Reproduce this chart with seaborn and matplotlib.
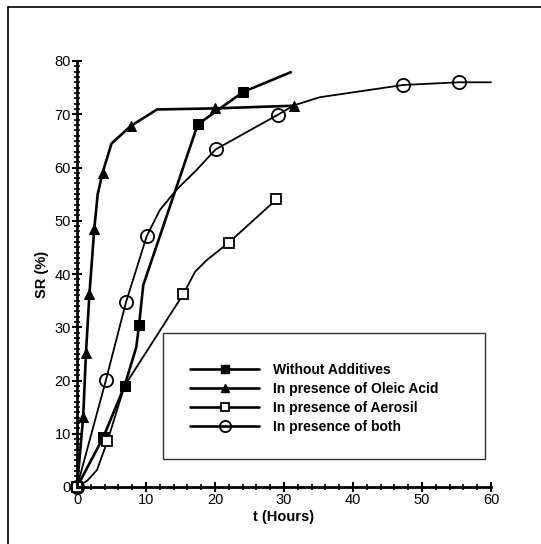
import matplotlib
matplotlib.use("Agg")
import matplotlib.pyplot as plt
import seaborn as sns
import pandas as pd
import numpy as np
from matplotlib.lines import Line2D
from matplotlib.patches import Rectangle
from matplotlib.ticker import MultipleLocator

# ---------------- data ----------------
without_t = [0, 3.8, 6.9, 8.6, 9.0, 9.6, 17.5, 24.1, 31.0]
without_sr = [0, 9.3, 19.0, 26.3, 30.5, 37.9, 68.1, 74.2, 77.9]
without_marked = [0, 1, 2, 4, 6, 7]

oleic_t = [0, 0.9, 1.3, 1.8, 2.5, 3.0, 3.7, 5.0, 7.8, 11.6, 20.0, 31.4]
oleic_sr = [0, 13.2, 25.2, 36.2, 48.4, 55.0, 59.0, 64.5, 67.8, 70.9, 71.1, 71.6]
oleic_marked = [0, 1, 2, 3, 4, 6, 8, 10, 11]

aerosil_t = [0, 1.5, 2.9, 4.4, 6.9, 15.4, 17.1, 18.8, 22.0, 28.9]
aerosil_sr = [0, 1.2, 3.2, 8.6, 19.0, 36.2, 40.4, 42.6, 45.9, 54.0]
aerosil_marked = [0, 3, 5, 8, 9]

both_t = [0, 4.2, 7.1, 10.1, 12.0, 14.4, 17.3, 20.1, 29.1, 31.5, 35.2, 47.3, 55.3, 60]
both_sr = [0, 20.1, 34.7, 47.1, 52.0, 55.8, 59.5, 63.4, 69.9, 71.7, 73.2, 75.5, 76.0, 76.0]
both_marked = [0, 1, 2, 3, 7, 8, 11, 12]

labels = ["Without Additives", "In presence of Oleic Acid",
          "In presence of Aerosil", "In presence of both"]
x_ticks = [0, 10, 20, 30, 40, 50, 60]
y_ticks = [0, 10, 20, 30, 40, 50, 60, 70, 80]

# ---------------- styling ----------------
sns.set_style("ticks")
plt.rcParams["font.family"] = ["Liberation Sans", "DejaVu Sans"]
plt.rcParams["text.color"] = "black"
plt.rcParams["axes.labelcolor"] = "black"
plt.rcParams["xtick.color"] = "black"
plt.rcParams["ytick.color"] = "black"

fig = plt.figure(figsize=(5.41, 5.44), dpi=100)
ax = fig.add_axes([77/541, 1-487/544, (491-77)/541, (487-61)/544])

series = [
    (without_t, without_sr, without_marked,
     dict(marker="s", markersize=7, markerfacecolor="black", lw=1.9)),
    (oleic_t, oleic_sr, oleic_marked,
     dict(marker="^", markersize=6.5, markerfacecolor="black", lw=1.9)),
    (aerosil_t, aerosil_sr, aerosil_marked,
     dict(marker="s", markersize=7.5, markerfacecolor="white", lw=1.3,
          markeredgewidth=1.3)),
    (both_t, both_sr, both_marked,
     dict(marker="o", markersize=9.5, markerfacecolor="none", lw=1.3,
          markeredgewidth=1.3)),
]

handles = []
for (t, sr, marked, style), lab in zip(series, labels):
    df = pd.DataFrame({"t": t, "SR": sr})
    sns.lineplot(data=df, x="t", y="SR", ax=ax, sort=False, estimator=None,
                 color="black", markevery=marked, markeredgecolor="black",
                 **style)
    hstyle = dict(style)
    hstyle["lw"] = 1.9
    hstyle["markersize"] = style["markersize"] * 0.85
    handles.append(Line2D([0], [0], color="black", markeredgecolor="black",
                          label=lab, **hstyle))

ax.set_xlim(0, 60)
ax.set_ylim(0, 80)
ax.set_xticks(x_ticks)
ax.set_yticks(y_ticks)
ax.xaxis.set_minor_locator(MultipleLocator(2))
ax.yaxis.set_minor_locator(MultipleLocator(1))
ax.tick_params(which="major", direction="inout", length=7, width=1.5,
               labelsize=10.5, pad=1, colors="black", labelcolor="black")
ax.tick_params(which="minor", direction="inout", length=4, width=1.2)
for sp in ["top", "right"]:
    ax.spines[sp].set_visible(False)
for sp in ["left", "bottom"]:
    ax.spines[sp].set_linewidth(2)
    ax.spines[sp].set_color("black")
for ln in ax.lines:
    ln.set_clip_on(False)

ax.set_xlabel("t (Hours)", fontsize=10.5, fontweight="bold", labelpad=2,
              color="black")
ax.set_ylabel("SR (%)", fontsize=10.5, fontweight="bold", labelpad=4,
              color="black")

# legend box
ax.add_patch(Rectangle(((163-77)/414, (487-459)/426), (485-163)/414,
                       (459-333)/426, transform=ax.transAxes,
                       fill=False, edgecolor="#333333", lw=1.0, zorder=3))
leg = ax.legend(handles=handles, loc="upper left",
                bbox_to_anchor=((190-77)/414, (487-363)/426),
                frameon=False, borderpad=0, borderaxespad=0,
                handlelength=5.0, handletextpad=1.0, labelspacing=0.35,
                prop={"weight": "bold", "size": 10})
for txt in leg.get_texts():
    txt.set_color("black")

# figure border (left and top)
fig.add_artist(Line2D([8/541, 8/541], [0, 1-7/544], color="black", lw=1.2,
                      transform=fig.transFigure))
fig.add_artist(Line2D([8/541, 1], [1-7/544, 1-7/544], color="black", lw=1.2,
                      transform=fig.transFigure))

fig.savefig("out.png", dpi=100)
